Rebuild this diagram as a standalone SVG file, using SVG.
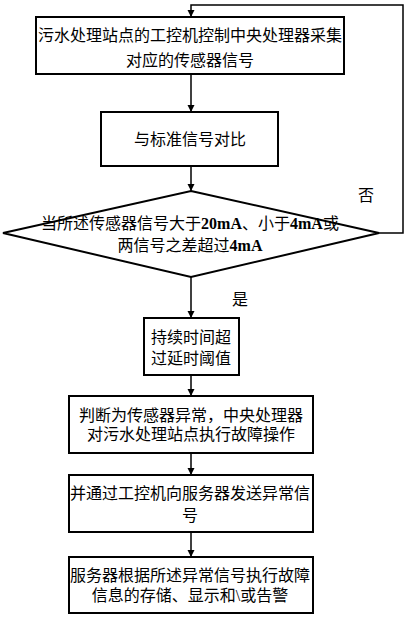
<svg xmlns="http://www.w3.org/2000/svg" width="409" height="617" viewBox="0 0 409 617">
<style>
.box{fill:#fff;stroke:#000;stroke-width:2}
.ln{fill:none;stroke:#000;stroke-width:1.5}
text{font-family:"Liberation Serif","Noto Sans CJK SC",serif;font-size:16px;fill:#000;text-anchor:middle}
.b{font-weight:bold}
</style>
<defs>
<marker id="ah" markerWidth="8" markerHeight="8" refX="7" refY="4" orient="auto" markerUnits="userSpaceOnUse">
<path d="M0,0.5 L7,4 L0,7.5 Z" fill="#000"/>
</marker>
</defs>
<rect width="409" height="617" fill="#fff"/>
<g id="connectors">
<polyline class="ln" points="379,233 403,233 403,5 191,5 191,17" marker-end="url(#ah)"/>
<line class="ln" x1="191" y1="74" x2="191" y2="112" marker-end="url(#ah)"/>
<line class="ln" x1="191" y1="166" x2="191" y2="191" marker-end="url(#ah)"/>
<line class="ln" x1="191" y1="277" x2="191" y2="318" marker-end="url(#ah)"/>
<line class="ln" x1="191" y1="375" x2="191" y2="396" marker-end="url(#ah)"/>
<line class="ln" x1="191" y1="453" x2="191" y2="475" marker-end="url(#ah)"/>
<line class="ln" x1="191" y1="532" x2="191" y2="557" marker-end="url(#ah)"/>
<text x="366" y="201">否</text>
<text x="240" y="305">是</text>
</g>
<g id="n1">
<rect class="box" x="36" y="17" width="308" height="57"/>
<text x="190" y="41">污水处理站点的工控机控制中央处理器采集</text>
<text x="190" y="66">对应的传感器信号</text>
</g>
<g id="n2">
<rect class="box" x="101" y="112" width="177" height="54"/>
<text x="190" y="145">与标准信号对比</text>
</g>
<g id="n3">
<polygon class="box" points="191,191 379,233 191,277 3,233"/>
<text x="190" y="229">当所述传感器信号大于<tspan class="b">20mA</tspan>、小于<tspan class="b">4mA</tspan>或</text>
<text x="190" y="251">两信号之差超过<tspan class="b">4mA</tspan></text>
</g>
<g id="n4">
<rect class="box" x="144" y="318" width="95" height="57"/>
<text x="191" y="343">持续时间超</text>
<text x="191" y="364">过延时阈值</text>
</g>
<g id="n5">
<rect class="box" x="69" y="396" width="244" height="57"/>
<text x="191" y="421">判断为传感器异常，中央处理器</text>
<text x="191" y="440">对污水处理站点执行故障操作</text>
</g>
<g id="n6">
<rect class="box" x="69" y="475" width="244" height="57"/>
<text x="190" y="499">并通过工控机向服务器发送异常信</text>
<text x="190" y="521">号</text>
</g>
<g id="n7">
<rect class="box" x="69" y="557" width="244" height="56"/>
<text x="190" y="581">服务器根据所述异常信号执行故障</text>
<text x="190" y="601">信息的存储、显示和\或告警</text>
</g>
</svg>
